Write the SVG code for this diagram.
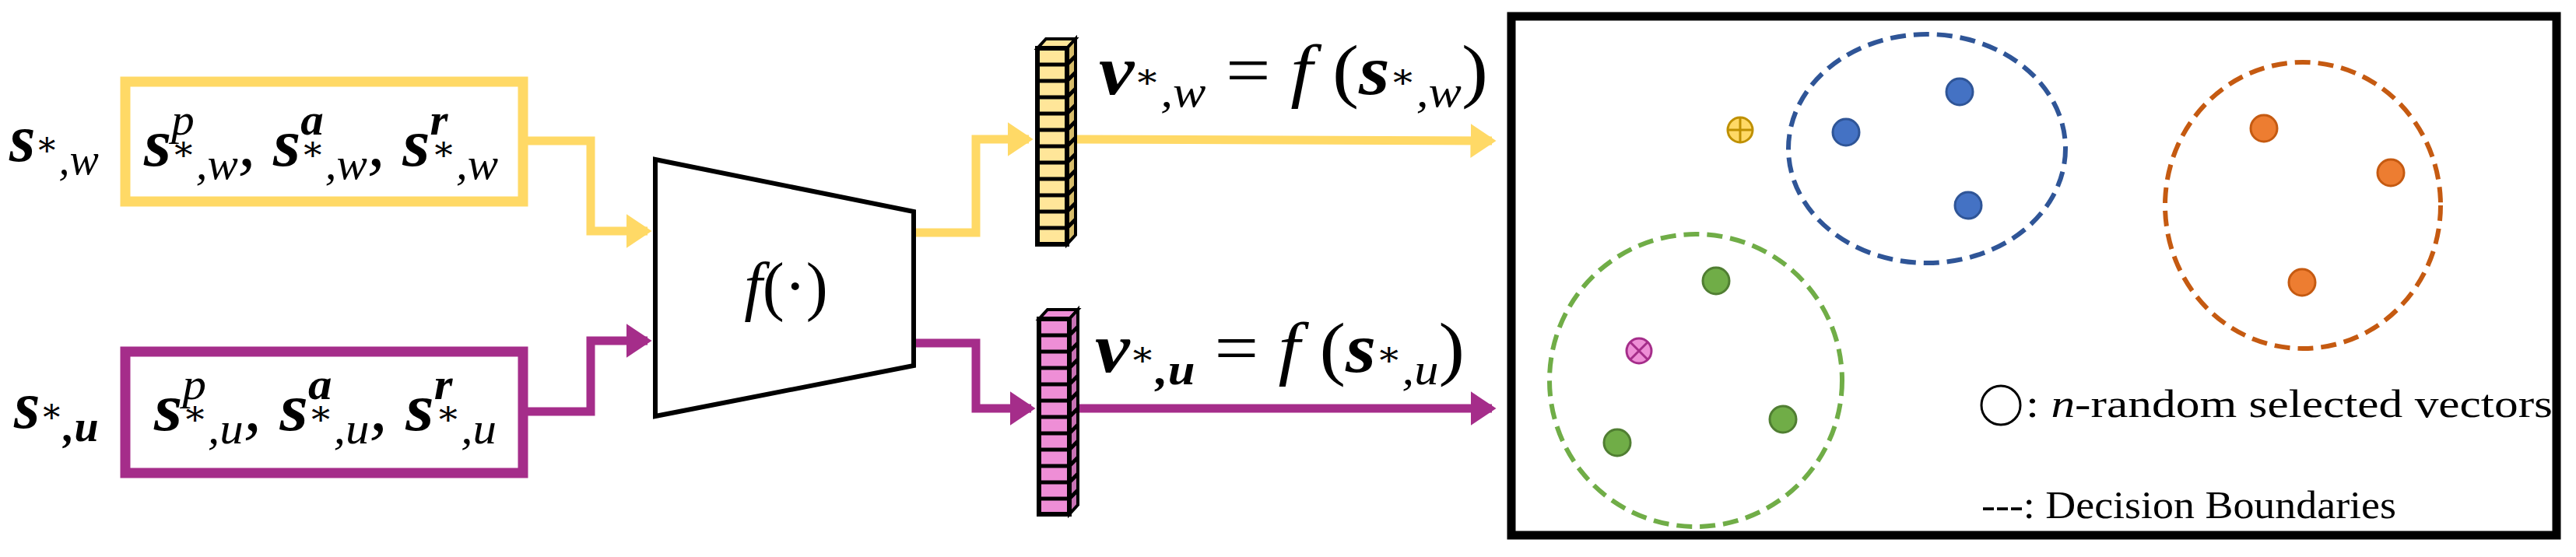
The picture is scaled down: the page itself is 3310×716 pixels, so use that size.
<svg xmlns="http://www.w3.org/2000/svg" width="3310" height="716" viewBox="0 0 3310 716">
<style>
text{font-family:'Liberation Serif','DejaVu Serif','Times New Roman',serif}
.m{font-style:italic;fill:#000}
.b{font-weight:bold}
.sub{font-size:56px}
.st{font-size:44px;font-style:normal}
.t{fill:#000;font-size:50px}
.cell{stroke:#000;stroke-width:5}
.dot{stroke-width:3}
</style>
<defs>
<marker id="ay" markerWidth="4" markerHeight="4" refX="2.5" refY="2" orient="auto" markerUnits="strokeWidth"><path d="M0,0L3,2L0,4Z" fill="#FFD966"/></marker>
<marker id="ap" markerWidth="4" markerHeight="4" refX="2.5" refY="2" orient="auto" markerUnits="strokeWidth"><path d="M0,0L3,2L0,4Z" fill="#A52D8A"/></marker>
</defs>
<rect width="3310" height="716" fill="#fff"/>
<g id="connectors" fill="none" stroke-width="11">
<polyline points="677,181 759,181 759,297 832,297" stroke="#FFD966" marker-end="url(#ay)"/>
<polyline points="677,529 759,529 759,438 832,438" stroke="#A52D8A" marker-end="url(#ap)"/>
<polyline points="1174,299 1254,299 1254,179 1322,179" stroke="#FFD966" marker-end="url(#ay)"/>
<polyline points="1174,441 1254,441 1254,525 1325,525" stroke="#A52D8A" marker-end="url(#ap)"/>
<line x1="1382" y1="179" x2="1917" y2="181" stroke="#FFD966" marker-end="url(#ay)"/>
<line x1="1385" y1="525" x2="1917" y2="525" stroke="#A52D8A" marker-end="url(#ap)"/>
</g>
<g id="input_w">
<rect x="161" y="105" width="511" height="154" fill="#fff" stroke="#FFD966" stroke-width="13"/>
<text class="m" x="12" y="207" font-size="86"><tspan class="b">s</tspan><tspan class="st" dy="-7">∗</tspan><tspan class="sub" dy="24">,w</tspan></text>
<text class="m" x="185" y="213" font-size="86" textLength="455" lengthAdjust="spacingAndGlyphs"><tspan class="b">s</tspan><tspan class="sub" dy="-40">p</tspan><tspan class="st" dx="-28" dy="33">∗</tspan><tspan class="sub" dy="24">,w</tspan><tspan dy="-17">, </tspan><tspan class="b">s</tspan><tspan class="sub b" dy="-40">a</tspan><tspan class="st" dx="-28" dy="33">∗</tspan><tspan class="sub" dy="24">,w</tspan><tspan dy="-17">, </tspan><tspan class="b">s</tspan><tspan class="sub b" dy="-40">r</tspan><tspan class="st" dx="-20" dy="33">∗</tspan><tspan class="sub" dy="24">,w</tspan></text>
</g>
<g id="input_u">
<rect x="161" y="452" width="511" height="156" fill="#fff" stroke="#A52D8A" stroke-width="13"/>
<text class="m" x="18" y="550" font-size="86"><tspan class="b">s</tspan><tspan class="st" dy="-7">∗</tspan><tspan class="sub b" dy="24">,u</tspan></text>
<text class="m" x="198" y="553" font-size="86" textLength="440" lengthAdjust="spacingAndGlyphs"><tspan class="b">s</tspan><tspan class="sub" dy="-40">p</tspan><tspan class="st" dx="-28" dy="33">∗</tspan><tspan class="sub" dy="24">,u</tspan><tspan dy="-17">, </tspan><tspan class="b">s</tspan><tspan class="sub b" dy="-40">a</tspan><tspan class="st" dx="-28" dy="33">∗</tspan><tspan class="sub" dy="24">,u</tspan><tspan dy="-17">, </tspan><tspan class="b">s</tspan><tspan class="sub b" dy="-40">r</tspan><tspan class="st" dx="-20" dy="33">∗</tspan><tspan class="sub" dy="24">,u</tspan></text>
</g>
<g id="encoder">
<polygon points="842,205 1174,272 1174,470 842,535" fill="#fff" stroke="#000" stroke-width="6"/>
<text class="m" x="1010" y="396" font-size="84" text-anchor="middle">f<tspan font-style="normal">(·)</tspan></text>
</g>
<g id="vec_w">
<polygon points="1333,62 1344,50 1382,50 1371,62" fill="#FFE699" stroke="#000" stroke-width="4"/>
<polygon points="1371,62 1382,50 1382,302 1371,314" fill="#D6BC6A" stroke="#000" stroke-width="4"/>
<rect x="1333" y="62" width="38" height="252" fill="#FFE699" stroke="#000" stroke-width="6"/>
<path d="M1333,83H1371M1333,104H1371M1333,125H1371M1333,146H1371M1333,167H1371M1333,188H1371M1333,209H1371M1333,230H1371M1333,251H1371M1333,272H1371M1333,293H1371M1371,83l11,-11M1371,104l11,-11M1371,125l11,-11M1371,146l11,-11M1371,167l11,-11M1371,188l11,-11M1371,209l11,-11M1371,230l11,-11M1371,251l11,-11M1371,272l11,-11M1371,293l11,-11" class="cell"/>
<text class="m" x="1412" y="121" font-size="90" textLength="500" lengthAdjust="spacingAndGlyphs"><tspan class="b">v</tspan><tspan class="st" dy="-8">∗</tspan><tspan class="sub" dy="24">,w</tspan><tspan font-style="normal" dy="-16"> = </tspan>f<tspan font-style="normal"> (</tspan><tspan class="b">s</tspan><tspan class="st" dy="-8">∗</tspan><tspan class="sub" dy="24">,w</tspan><tspan font-style="normal" dy="-16">)</tspan></text>
</g>
<g id="vec_u">
<polygon points="1335,410 1346,398 1385,398 1374,410" fill="#EE8ED6" stroke="#000" stroke-width="4"/>
<polygon points="1374,410 1385,398 1385,649 1374,661" fill="#C872B4" stroke="#000" stroke-width="4"/>
<rect x="1335" y="410" width="39" height="251" fill="#EE8ED6" stroke="#000" stroke-width="6"/>
<path d="M1335,431H1374M1335,452H1374M1335,473H1374M1335,494H1374M1335,515H1374M1335,536H1374M1335,557H1374M1335,578H1374M1335,599H1374M1335,620H1374M1335,641H1374M1374,431l11,-11M1374,452l11,-11M1374,473l11,-11M1374,494l11,-11M1374,515l11,-11M1374,536l11,-11M1374,557l11,-11M1374,578l11,-11M1374,599l11,-11M1374,620l11,-11M1374,641l11,-11" class="cell"/>
<text class="m" x="1407" y="478" font-size="90" textLength="475" lengthAdjust="spacingAndGlyphs"><tspan class="b">v</tspan><tspan class="st" dy="-8">∗</tspan><tspan class="sub b" dy="24">,u</tspan><tspan font-style="normal" dy="-16"> = </tspan>f<tspan font-style="normal"> (</tspan><tspan class="b">s</tspan><tspan class="st" dy="-8">∗</tspan><tspan class="sub" dy="24">,u</tspan><tspan font-style="normal" dy="-16">)</tspan></text>
</g>
<g id="space">
<rect x="1942" y="21" width="1343" height="667" fill="#fff" stroke="#000" stroke-width="11"/>
<ellipse cx="2476" cy="191" rx="178" ry="147" fill="none" stroke="#2F5597" stroke-width="6" stroke-dasharray="20,10"/>
<ellipse cx="2959" cy="264" rx="177" ry="184" fill="none" stroke="#C55A11" stroke-width="6" stroke-dasharray="20,10"/>
<ellipse cx="2179" cy="489" rx="188" ry="188" fill="none" stroke="#70AD47" stroke-width="6" stroke-dasharray="20,10"/>
<g class="dot" fill="#4472C4" stroke="#2F5597"><circle cx="2518" cy="118" r="17"/><circle cx="2372" cy="170" r="17"/><circle cx="2529" cy="264" r="17"/></g>
<g class="dot" fill="#ED7D31" stroke="#C55A11"><circle cx="2909" cy="165" r="17"/><circle cx="3072" cy="222" r="17"/><circle cx="2958" cy="363" r="17"/></g>
<g class="dot" fill="#70AD47" stroke="#507E32"><circle cx="2205" cy="361" r="17"/><circle cx="2291" cy="539" r="17"/><circle cx="2078" cy="569" r="17"/></g>
<g fill="#FFD966" stroke="#BF9000" stroke-width="3"><circle cx="2236" cy="167" r="16"/><path d="M2220,167H2252M2236,151V183" fill="none"/></g>
<g fill="#EE8ED6" stroke="#A52D8A" stroke-width="3"><circle cx="2106" cy="451" r="16"/><path d="M2095,440L2117,462M2117,440L2095,462" fill="none"/></g>
<circle cx="2571" cy="521" r="25" fill="none" stroke="#000" stroke-width="3"/>
<text class="t" x="2603" y="536" textLength="677" lengthAdjust="spacingAndGlyphs">: <tspan font-style="italic">n</tspan>-random selected vectors</text>
<text class="t" x="2546" y="666" textLength="533" lengthAdjust="spacingAndGlyphs">---: Decision Boundaries</text>
</g>
</svg>
